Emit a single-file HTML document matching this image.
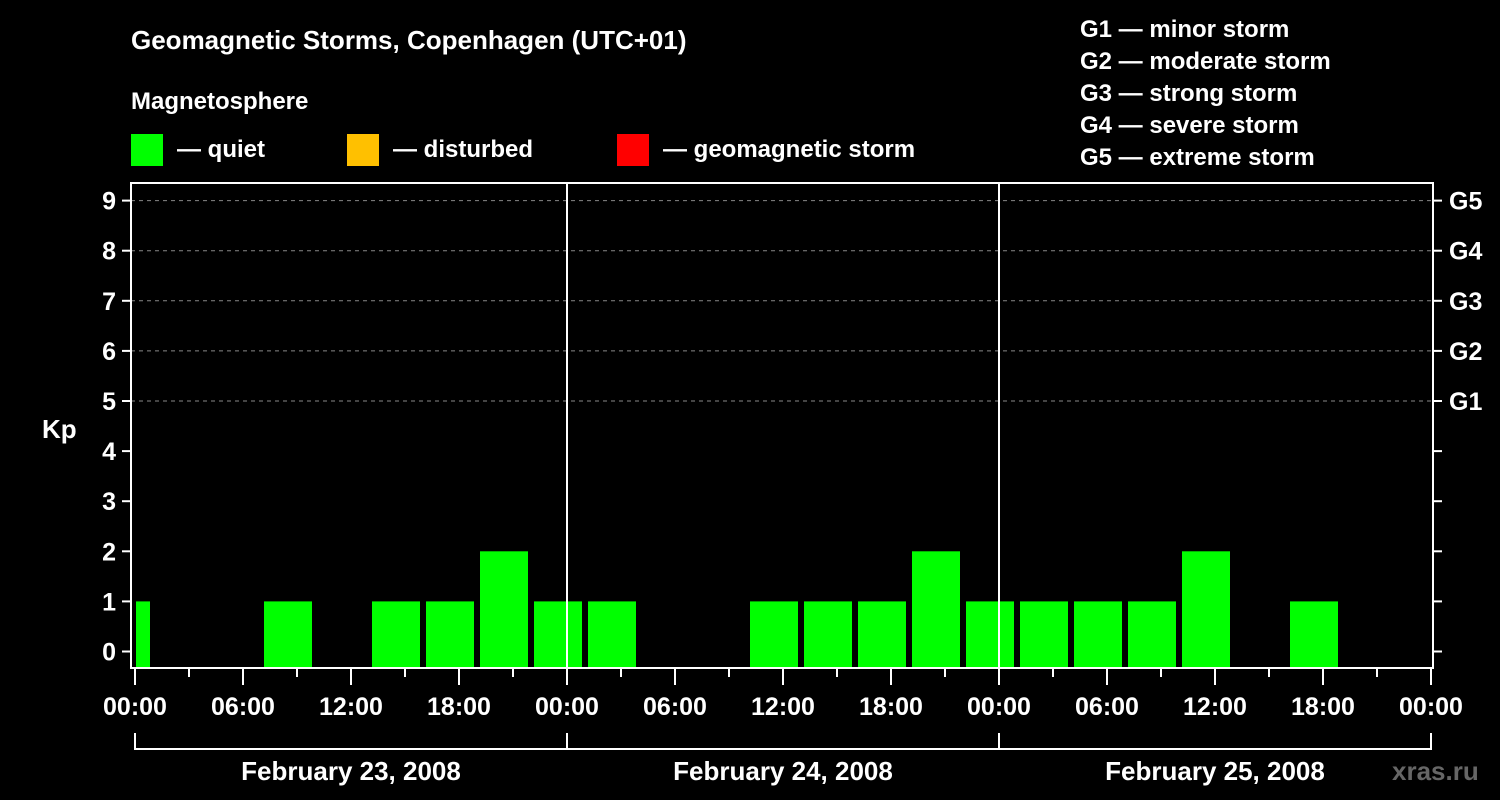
<!DOCTYPE html>
<html><head><meta charset="utf-8"><style>
html,body{margin:0;padding:0;background:#000;}
svg{display:block;font-family:"Liberation Sans",sans-serif;font-weight:bold;}
</style></head><body>
<svg id="c" width="1500" height="800" viewBox="0 0 1500 800" xmlns="http://www.w3.org/2000/svg">
<rect width="1500" height="800" fill="#000"/>
<text x="131" y="49" fill="#fff" font-size="26">Geomagnetic Storms, Copenhagen (UTC+01)</text>
<text x="131" y="109" fill="#fff" font-size="24">Magnetosphere</text>
<g><rect x="131" y="134" width="32" height="32" fill="#00ff00"/><text x="177" y="157" fill="#fff" font-size="24">— quiet</text></g>
<g><rect x="347" y="134" width="32" height="32" fill="#ffc000"/><text x="393" y="157" fill="#fff" font-size="24">— disturbed</text></g>
<g><rect x="617" y="134" width="32" height="32" fill="#ff0000"/><text x="663" y="157" fill="#fff" font-size="24">— geomagnetic storm</text></g>
<g fill="#fff" font-size="24">
<text x="1080" y="37">G1 — minor storm</text>
<text x="1080" y="69">G2 — moderate storm</text>
<text x="1080" y="101">G3 — strong storm</text>
<text x="1080" y="133">G4 — severe storm</text>
<text x="1080" y="165">G5 — extreme storm</text>
</g>
<text x="42" y="438" fill="#fff" font-size="26">Kp</text>
<text x="1392" y="780" fill="#666" font-size="26">xras.ru</text>
<g id="plot"></g>
</svg>
<script>
const kpValues = [1,0,0,1,0,1,1,2,1,1,0,0,1,1,1,2,1,1,1,1,2,0,1,0,0];
const timeLabels = ["00:00","06:00","12:00","18:00","00:00","06:00","12:00","18:00","00:00","06:00","12:00","18:00","00:00"];
const dateLabels = ["February 23, 2008","February 24, 2008","February 25, 2008"];
const kpTicks = [0,1,2,3,4,5,6,7,8,9];
const gLabels = ["G1","G2","G3","G4","G5"];

const NS="http://www.w3.org/2000/svg";
const g=document.getElementById('plot');
const L=131,R=1433,T=183,B=668;
const x0=135, pxPerHour=18;
const xH=h=>x0+h*pxPerHour;
const yK=k=>651.5-k*50.1;
function mk(tag,attrs,parent){const e=document.createElementNS(NS,tag);for(const k in attrs)e.setAttribute(k,attrs[k]);(parent||g).appendChild(e);return e;}
// grid
kpTicks.forEach(k=>{
  if(k>=5){const l=mk('line',{x1:L,x2:R,y1:yK(k),y2:yK(k),stroke:'#888','stroke-dasharray':'4,4','stroke-width':1});
  
  }
  const t1=mk('line',{x1:L-9,x2:L,y1:yK(k),y2:yK(k),stroke:'#fff','stroke-width':2});
  
  
  const t2=mk('line',{x1:R,x2:R+9,y1:yK(k),y2:yK(k),stroke:'#fff','stroke-width':2});
  
  
  const tx=mk('text',{x:116,y:yK(k)+9,fill:'#fff','font-size':25,'text-anchor':'end'});tx.textContent=k;
  
  
  if(k>=5){const gt=mk('text',{x:1449,y:yK(k)+9,fill:'#fff','font-size':25});gt.textContent=gLabels[k-5];
  
  }
});
// bars
kpValues.forEach((v,i)=>{
  if(v<=0)return;
  let s=-2+3*i,e=s+3;
  let xa=Math.max(xH(s)+3,x0+1), xb=Math.min(xH(e)-3,xH(72)-1);
  const col=v>=5?'#ff0000':(v>=4?'#ffc000':'#00ff00');
  const r=mk('rect',{x:xa,y:yK(v),width:xb-xa,height:B-yK(v),fill:col});
  
  
});
// day separators
[1,2].forEach(d=>{const l=mk('line',{x1:xH(24*d),x2:xH(24*d),y1:T,y2:B,stroke:'#fff','stroke-width':2});

});
// frame
const f=mk('rect',{x:L,y:T,width:R-L,height:B-T,fill:'none',stroke:'#fff','stroke-width':2});


// x ticks
for(let h=0;h<=72;h+=3){const big=h%6===0;
  const l=mk('line',{x1:xH(h),x2:xH(h),y1:B,y2:B+(big?17:9),stroke:'#fff','stroke-width':2});
  
  }
timeLabels.forEach((s,i)=>{const t=mk('text',{x:xH(i*6),y:715,fill:'#fff','font-size':25,'text-anchor':'middle'});t.textContent=s;
  
  });
// date brackets
const bl=mk('line',{x1:xH(0),x2:xH(72),y1:749,y2:749,stroke:'#fff','stroke-width':2});


for(let d=0;d<=3;d++){const l=mk('line',{x1:xH(24*d),x2:xH(24*d),y1:733,y2:750,stroke:'#fff','stroke-width':2});
  
  }
dateLabels.forEach((s,i)=>{const t=mk('text',{x:xH(24*i+12),y:780,fill:'#fff','font-size':26,'text-anchor':'middle'});t.textContent=s;
  
  });
</script>
</body></html>
